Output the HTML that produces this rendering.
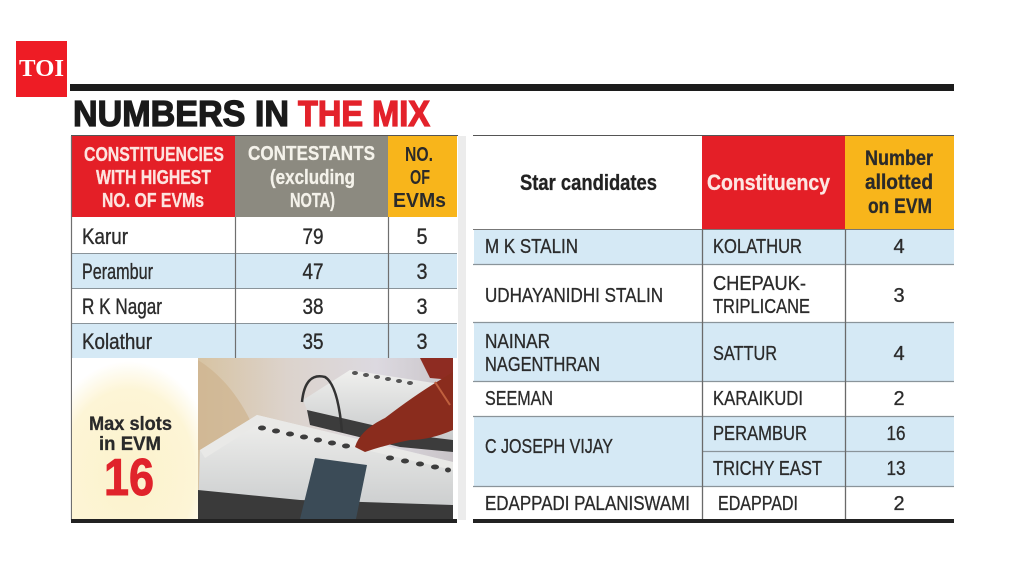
<!DOCTYPE html>
<html><head><meta charset="utf-8"><style>
html,body{margin:0;padding:0;background:#fff;}
svg{display:block;}
text{font-family:"Liberation Sans",sans-serif;}
</style></head><body>
<svg width="1024" height="576" viewBox="0 0 1024 576" xmlns="http://www.w3.org/2000/svg">
<defs>
<radialGradient id="cream" cx="0.45" cy="0.72" r="0.7">
<stop offset="0" stop-color="#fcf2cc"/><stop offset="0.75" stop-color="#fdf5d6"/><stop offset="1" stop-color="#ffffff"/>
</radialGradient>
<linearGradient id="bgph" x1="0" y1="0" x2="1" y2="0">
<stop offset="0" stop-color="#d7c3a2"/><stop offset="0.35" stop-color="#dcd3cc"/><stop offset="0.7" stop-color="#dcd9e0"/><stop offset="1" stop-color="#c9c4c8"/>
</linearGradient>
<linearGradient id="evm" x1="0" y1="0" x2="0" y2="1">
<stop offset="0" stop-color="#f0f0ee"/><stop offset="1" stop-color="#c8cacb"/>
</linearGradient>
</defs>
<rect width="1024" height="576" fill="#fff"/>

<!-- TOI logo -->
<rect x="16" y="41" width="51" height="56" fill="#ee1c25"/>
<text x="19" y="76" font-weight="bold" font-size="24" fill="#fff" textLength="45" lengthAdjust="spacingAndGlyphs" style="font-family:'Liberation Serif',serif">TOI</text>

<!-- top rule -->
<rect x="70" y="84" width="884" height="7" fill="#1c1c1c"/>

<!-- title -->
<text x="73" y="126" font-weight="bold" font-size="36" fill="#1a1a1a" stroke="#1a1a1a" stroke-width="1.3" textLength="216" lengthAdjust="spacingAndGlyphs">NUMBERS IN</text>
<text x="298" y="126" font-weight="bold" font-size="36" fill="#e3222b" stroke="#e3222b" stroke-width="1.3" textLength="132" lengthAdjust="spacingAndGlyphs">THE MIX</text>

<!-- LEFT TABLE -->
<rect x="72" y="136" width="163" height="81" fill="#e41f27"/>
<rect x="235" y="136" width="153" height="81" fill="#8c8a80"/>
<rect x="388" y="136" width="69" height="81" fill="#f8b51b"/>
<line x1="71" y1="135.5" x2="458" y2="135.5" stroke="#555" stroke-width="1"/>

<g font-weight="bold" font-size="20">
<text x="84" y="161" fill="#fde4df" stroke="#fde4df" stroke-width="0.3" textLength="140" lengthAdjust="spacingAndGlyphs">CONSTITUENCIES</text>
<text x="96" y="184" fill="#fde4df" stroke="#fde4df" stroke-width="0.3" textLength="115" lengthAdjust="spacingAndGlyphs">WITH HIGHEST</text>
<text x="102" y="207" fill="#fde4df" stroke="#fde4df" stroke-width="0.3" textLength="102" lengthAdjust="spacingAndGlyphs">NO. OF EVMs</text>

<text x="248" y="160" fill="#f4f2ea" stroke="#f4f2ea" stroke-width="0.3" textLength="127" lengthAdjust="spacingAndGlyphs">CONTESTANTS</text>
<text x="270" y="184" fill="#f4f2ea" stroke="#f4f2ea" stroke-width="0.3" textLength="85" lengthAdjust="spacingAndGlyphs">(excluding</text>
<text x="290" y="207" fill="#f4f2ea" stroke="#f4f2ea" stroke-width="0.3" textLength="45" lengthAdjust="spacingAndGlyphs">NOTA)</text>

<text x="405" y="161" fill="#2a2a2a" textLength="28" lengthAdjust="spacingAndGlyphs">NO.</text>
<text x="410" y="184" fill="#2a2a2a" textLength="20" lengthAdjust="spacingAndGlyphs">OF</text>
<text x="393" y="207" fill="#2a2a2a" textLength="53" lengthAdjust="spacingAndGlyphs">EVMs</text>
</g>

<!-- left rows -->
<rect x="72" y="217" width="385" height="36" fill="#fff"/>
<rect x="72" y="253" width="385" height="35" fill="#d5e9f5"/>
<rect x="72" y="288" width="385" height="35" fill="#fff"/>
<rect x="72" y="323" width="385" height="35" fill="#d5e9f5"/>
<g stroke="#8a949a" stroke-width="1">
<line x1="72" y1="253.5" x2="457" y2="253.5"/>
<line x1="72" y1="288.5" x2="457" y2="288.5"/>
<line x1="72" y1="323.5" x2="457" y2="323.5"/>
</g>
<g stroke="#6f6f6f" stroke-width="1.2">
<line x1="235.5" y1="217" x2="235.5" y2="358"/>
<line x1="388.5" y1="217" x2="388.5" y2="358"/>
<line x1="71.5" y1="136" x2="71.5" y2="520"/>
</g>
<rect x="458" y="136" width="8" height="384" fill="#ececec"/>

<g font-size="22" fill="#2b2b2b" stroke="#2b2b2b" stroke-width="0.35">
<text x="82" y="244" textLength="46" lengthAdjust="spacingAndGlyphs">Karur</text>
<text x="82" y="279" textLength="71" lengthAdjust="spacingAndGlyphs">Perambur</text>
<text x="82" y="314" textLength="80" lengthAdjust="spacingAndGlyphs">R K Nagar</text>
<text x="82" y="349" textLength="70" lengthAdjust="spacingAndGlyphs">Kolathur</text>
<g text-anchor="middle">
<text x="313" y="244" textLength="21" lengthAdjust="spacingAndGlyphs">79</text>
<text x="313" y="279" textLength="21" lengthAdjust="spacingAndGlyphs">47</text>
<text x="313" y="314" textLength="21" lengthAdjust="spacingAndGlyphs">38</text>
<text x="313" y="349" textLength="21" lengthAdjust="spacingAndGlyphs">35</text>
<text x="422" y="244" textLength="11" lengthAdjust="spacingAndGlyphs">5</text>
<text x="422" y="279" textLength="11" lengthAdjust="spacingAndGlyphs">3</text>
<text x="422" y="314" textLength="11" lengthAdjust="spacingAndGlyphs">3</text>
<text x="422" y="349" textLength="11" lengthAdjust="spacingAndGlyphs">3</text>
</g>
</g>

<!-- cream box -->
<rect x="72" y="358" width="126" height="162" fill="url(#cream)"/>
<text x="89" y="430" font-weight="bold" font-size="19" fill="#2a2a2a" stroke="#2a2a2a" stroke-width="0.3" textLength="83" lengthAdjust="spacingAndGlyphs">Max slots</text>
<text x="99" y="450" font-weight="bold" font-size="19" fill="#2a2a2a" stroke="#2a2a2a" stroke-width="0.3" textLength="62" lengthAdjust="spacingAndGlyphs">in EVM</text>
<text x="104" y="495" font-weight="bold" font-size="52" fill="#e0232b" stroke="#e0232b" stroke-width="1" textLength="50" lengthAdjust="spacingAndGlyphs">16</text>

<!-- photo -->
<svg x="198" y="358" width="255" height="161" viewBox="198 358 255 161">
<rect x="198" y="358" width="255" height="161" fill="url(#bgph)"/>
<path d="M198 360 Q230 380 250 420 L230 450 L198 450 Z" fill="#cfb48e" opacity="0.7"/>
<path d="M420 358 L453 358 L453 380 L430 378 Z" fill="#8e2c22"/>
<path d="M303 400 L350 370 L453 386 L453 440 L420 436 L307 410 Z" fill="url(#evm)"/>
<path d="M307 410 L420 436 L453 440 L453 452 L400 447 L310 425 Z" fill="#3c3c3c"/>
<g fill="#555">
<ellipse cx="355" cy="373" rx="3" ry="2"/><ellipse cx="366" cy="375" rx="3" ry="2"/><ellipse cx="377" cy="377" rx="3" ry="2"/><ellipse cx="388" cy="379" rx="3" ry="2"/><ellipse cx="399" cy="381" rx="3" ry="2"/><ellipse cx="410" cy="383" rx="3" ry="2"/>
</g>
<path d="M302 402 Q305 372 325 377 Q338 385 342 432" fill="none" stroke="#333" stroke-width="2.5"/>
<path d="M200 450 L257 415 L453 462 L453 519 L198 519 Z" fill="url(#evm)"/>
<path d="M198 490 L300 500 L453 505 L453 519 L198 519 Z" fill="#3a3a3a"/>
<path d="M200 450 L257 415 L453 462 L453 470 L257 425 L205 458 Z" fill="#e9e9e7"/>
<g fill="#3d3d3d">
<ellipse cx="262" cy="428" rx="4" ry="2.5"/><ellipse cx="276" cy="431" rx="4" ry="2.5"/><ellipse cx="290" cy="434" rx="4" ry="2.5"/><ellipse cx="304" cy="437" rx="4" ry="2.5"/><ellipse cx="318" cy="440" rx="4" ry="2.5"/><ellipse cx="332" cy="443" rx="4" ry="2.5"/><ellipse cx="346" cy="446" rx="4" ry="2.5"/>
<ellipse cx="390" cy="458" rx="4" ry="2.5"/><ellipse cx="405" cy="461" rx="4" ry="2.5"/><ellipse cx="420" cy="464" rx="4" ry="2.5"/><ellipse cx="435" cy="467" rx="4" ry="2.5"/><ellipse cx="448" cy="470" rx="3" ry="2.5"/>
</g>
<path d="M355 447 Q360 430 385 418 Q415 395 440 380 L453 372 L453 430 Q430 440 410 440 Q385 445 365 452 Z" fill="#8a2c1d"/>
<path d="M435 382 L450 405" stroke="#c0603e" stroke-width="2"/>
<path d="M315 458 L367 465 L356 519 L300 519 Z" fill="#3b4b57"/>
</svg>

<!-- bottom rule left -->
<rect x="71" y="519" width="386" height="4" fill="#222"/>

<!-- RIGHT TABLE -->
<rect x="702" y="136" width="143" height="93" fill="#e41f27"/>
<rect x="845" y="136" width="109" height="93" fill="#f8b51b"/>
<line x1="473" y1="135.5" x2="954" y2="135.5" stroke="#555" stroke-width="1"/>
<line x1="473" y1="229.5" x2="954" y2="229.5" stroke="#777" stroke-width="1"/>

<text x="520" y="190" font-weight="bold" font-size="22" fill="#222" stroke="#222" stroke-width="0.3" textLength="137" lengthAdjust="spacingAndGlyphs">Star candidates</text>
<text x="707" y="190" font-weight="bold" font-size="22" fill="#fde6e2" stroke="#fde6e2" stroke-width="0.3" textLength="123" lengthAdjust="spacingAndGlyphs">Constituency</text>
<text x="865" y="165" font-weight="bold" font-size="21" fill="#2a2a2a" stroke="#2a2a2a" stroke-width="0.3" textLength="68" lengthAdjust="spacingAndGlyphs">Number</text>
<text x="865" y="189" font-weight="bold" font-size="21" fill="#2a2a2a" stroke="#2a2a2a" stroke-width="0.3" textLength="68" lengthAdjust="spacingAndGlyphs">allotted</text>
<text x="868" y="213" font-weight="bold" font-size="21" fill="#2a2a2a" stroke="#2a2a2a" stroke-width="0.3" textLength="64" lengthAdjust="spacingAndGlyphs">on EVM</text>

<!-- right rows -->
<rect x="474" y="230" width="480" height="34" fill="#d5e9f5"/>
<rect x="474" y="322" width="480" height="59" fill="#d5e9f5"/>
<rect x="474" y="416" width="480" height="70" fill="#d5e9f5"/>
<g stroke="#8a949a" stroke-width="1.2">
<line x1="473" y1="264.5" x2="954" y2="264.5"/>
<line x1="473" y1="322.5" x2="954" y2="322.5"/>
<line x1="473" y1="381.5" x2="954" y2="381.5"/>
<line x1="473" y1="416.5" x2="954" y2="416.5"/>
<line x1="702" y1="451.5" x2="954" y2="451.5"/>
<line x1="473" y1="486.5" x2="954" y2="486.5"/>
</g>
<g stroke="#6a6a6a" stroke-width="1.3">
<line x1="702.5" y1="229" x2="702.5" y2="520"/>
<line x1="845.5" y1="229" x2="845.5" y2="520"/>
</g>

<g font-size="20" fill="#2b2b2b" stroke="#2b2b2b" stroke-width="0.3">
<text x="485" y="253" textLength="93" lengthAdjust="spacingAndGlyphs">M K STALIN</text>
<text x="485" y="302" textLength="178" lengthAdjust="spacingAndGlyphs">UDHAYANIDHI STALIN</text>
<text x="485" y="348" textLength="65" lengthAdjust="spacingAndGlyphs">NAINAR</text>
<text x="485" y="371" textLength="115" lengthAdjust="spacingAndGlyphs">NAGENTHRAN</text>
<text x="485" y="405" textLength="68" lengthAdjust="spacingAndGlyphs">SEEMAN</text>
<text x="485" y="453" textLength="128" lengthAdjust="spacingAndGlyphs">C JOSEPH VIJAY</text>
<text x="485" y="510" textLength="205" lengthAdjust="spacingAndGlyphs">EDAPPADI PALANISWAMI</text>

<text x="713" y="253" textLength="89" lengthAdjust="spacingAndGlyphs">KOLATHUR</text>
<text x="713" y="290" textLength="93" lengthAdjust="spacingAndGlyphs">CHEPAUK-</text>
<text x="713" y="313" textLength="97" lengthAdjust="spacingAndGlyphs">TRIPLICANE</text>
<text x="713" y="360" textLength="64" lengthAdjust="spacingAndGlyphs">SATTUR</text>
<text x="713" y="405" textLength="90" lengthAdjust="spacingAndGlyphs">KARAIKUDI</text>
<text x="713" y="440" textLength="94" lengthAdjust="spacingAndGlyphs">PERAMBUR</text>
<text x="713" y="475" textLength="109" lengthAdjust="spacingAndGlyphs">TRICHY EAST</text>
<text x="718" y="510" textLength="80" lengthAdjust="spacingAndGlyphs">EDAPPADI</text>

<g text-anchor="middle">
<text x="899" y="253">4</text>
<text x="899" y="302">3</text>
<text x="899" y="360">4</text>
<text x="899" y="405">2</text>
<text x="896" y="440" textLength="19" lengthAdjust="spacingAndGlyphs">16</text>
<text x="896" y="475" textLength="19" lengthAdjust="spacingAndGlyphs">13</text>
<text x="899" y="510">2</text>
</g>
</g>

<!-- bottom rule right -->
<rect x="473" y="519" width="481" height="4" fill="#222"/>
</svg>
</body></html>
